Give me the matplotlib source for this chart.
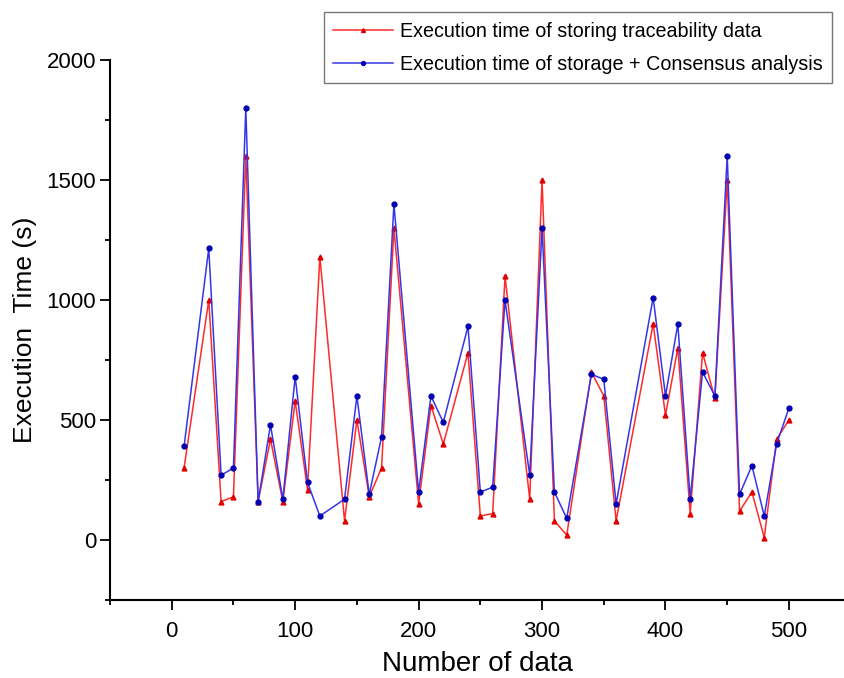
import matplotlib
matplotlib.use("Agg")
from matplotlib import pyplot as plt
from matplotlib.ticker import MultipleLocator

plt.rcParams["font.family"] = ["Liberation Sans", "DejaVu Sans"]

# data
n_data = [10, 30, 40, 50, 60, 70, 80, 90, 100, 110, 120, 140, 150, 160, 170, 180,
          200, 210, 220, 240, 250, 260, 270, 290, 300, 310, 320, 340, 350, 360,
          390, 400, 410, 420, 430, 440, 450, 460, 470, 480, 490, 500]
t_store = [300, 1000, 160, 180, 1600, 160, 420, 160, 580, 210, 1180, 80, 500, 180, 300, 1300,
           150, 560, 400, 780, 100, 110, 1100, 170, 1500, 80, 20, 700, 600, 80,
           900, 520, 800, 110, 780, 590, 1500, 120, 200, 10, 420, 500]
t_consensus = [390, 1215, 270, 300, 1800, 160, 480, 170, 680, 240, 100, 170, 600, 190, 430, 1400,
               200, 600, 490, 890, 200, 220, 1000, 270, 1300, 200, 90, 690, 670, 150,
               1010, 600, 900, 170, 700, 600, 1600, 190, 310, 100, 400, 550]
labels = ["Execution time of storing traceability data",
          "Execution time of storage + Consensus analysis"]

fig = plt.figure(figsize=(8.44, 6.78), dpi=100)
ax = fig.add_axes([110 / 844, 1 - 600 / 678, 1 - 110 / 844, 540 / 678])

ax.plot(n_data, t_store, "-", color="#ff2a2a", lw=1.1, marker="^", ms=3.5,
        mfc="#e00000", mec="#e00000", label=labels[0])
ax.plot(n_data, t_consensus, "-", color="#3535e8", lw=1.1, marker="o", ms=3.5,
        mfc="#0000b0", mec="#0000b0", label=labels[1])

ax.set_xlim(-50, 544.6)
ax.set_ylim(-250, 2000)
ax.xaxis.set_minor_locator(MultipleLocator(50))
ax.yaxis.set_minor_locator(MultipleLocator(250))
ax.set_xticks([0, 100, 200, 300, 400, 500])
ax.set_yticks([0, 500, 1000, 1500, 2000])

for s in ["top", "right"]:
    ax.spines[s].set_visible(False)
for s in ["left", "bottom"]:
    ax.spines[s].set_linewidth(1.5)
ax.tick_params(which="major", direction="out", length=7, width=1.3, labelsize=16, pad=3)
ax.tick_params(which="minor", direction="out", length=3.6, width=1.3)
ax.tick_params(axis="x", which="major", pad=8)

ax.set_xlabel("Number of data", fontsize=20)
ax.set_ylabel("Execution  Time (s)", fontsize=19)
ax.xaxis.set_label_coords(0.5, -0.094)
ax.yaxis.set_label_coords(-0.099, 0.5)

leg = fig.legend(loc="upper right", bbox_to_anchor=(842 / 844, 1 - 2 / 678),
                 fontsize=14.2, frameon=True, fancybox=False, handlelength=3.0,
                 handletextpad=0.35, labelspacing=0.7, borderpad=0.5,
                 markerscale=0.8)
leg.get_frame().set_edgecolor("#555555")
leg.get_frame().set_linewidth(1.0)

plt.savefig("out.png", dpi=100)
